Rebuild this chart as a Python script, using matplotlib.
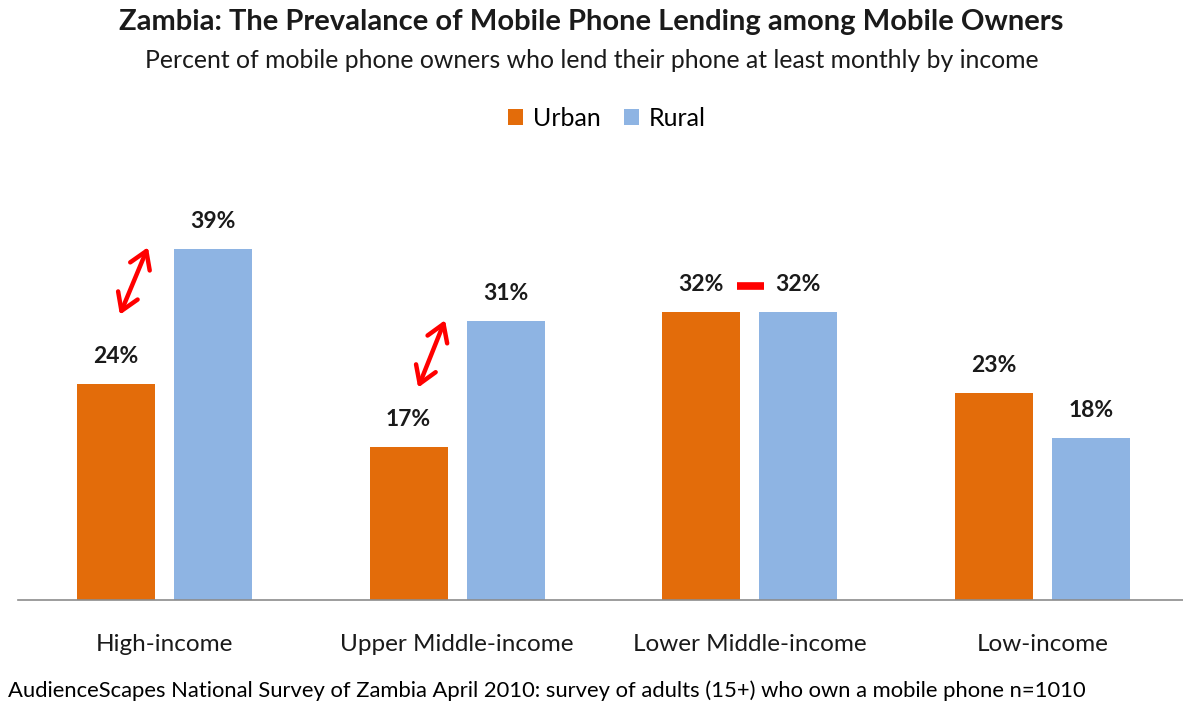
import matplotlib
matplotlib.use("Agg")
import matplotlib.pyplot as plt
import numpy as np

plt.rcParams['font.family'] = ['Lato', 'DejaVu Sans']

categories = ["High-income", "Upper Middle-income", "Lower Middle-income", "Low-income"]
urban = [24, 17, 32, 23]
rural = [39, 31, 32, 18]

title = "Zambia: The Prevalance of Mobile Phone Lending among Mobile Owners"
subtitle = "Percent of mobile phone owners who lend their phone at least monthly by income"
source = "AudienceScapes National Survey of Zambia April 2010: survey of adults (15+) who own a mobile phone n=1010"

URBAN_COLOR = "#E36C0A"
RURAL_COLOR = "#8EB4E3"

fig = plt.figure(figsize=(11.83, 7.03), dpi=100)
ax = fig.add_axes([18 / 1183, 103 / 703, 1165 / 1183, 450 / 703])

x = np.arange(len(categories))
w = 0.2665
off = (w + 0.065) / 2
b1 = ax.bar(x - off, urban, w, color=URBAN_COLOR, label="Urban")
b2 = ax.bar(x + off, rural, w, color=RURAL_COLOR, label="Rural")

for bars, vals in ((b1, urban), (b2, rural)):
    for r, v in zip(bars, vals):
        ax.annotate(f"{v}%", (r.get_x() + r.get_width() / 2, v),
                    xytext=(0, 19.5), textcoords="offset points",
                    ha="center", va="center", fontsize=16.5, fontweight="bold",
                    color="#1a1a1a")

ax.set_xlim(-0.5, 3.48)
ax.set_ylim(0, 50)
for s in ("top", "right", "left"):
    ax.spines[s].set_visible(False)
ax.spines["bottom"].set_color("#8c8c8c")
ax.spines["bottom"].set_linewidth(1.2)
ax.set_yticks([])
ax.set_xticks(x)
ax.set_xticklabels(categories, fontsize=17.5, color="#1a1a1a")
ax.tick_params(axis="x", length=0, pad=24.5)

# double-headed arrows highlighting the urban/rural gap
arrow_style = dict(arrowstyle="<->,head_length=0.6,head_width=0.38",
                   color="#FF0000", lw=3.2, mutation_scale=20,
                   shrinkA=0, shrinkB=0)
ax.annotate("", xy=(-0.056, 39.2), xytext=(-0.152, 31.7), arrowprops=arrow_style)
ax.annotate("", xy=(0.959, 31.1), xytext=(0.867, 23.6), arrowprops=arrow_style)
# equal sign between the lower middle-income pair
ax.plot([1.958, 2.047], [34.9, 34.9], color="#FF0000", lw=5.5, solid_capstyle="butt")

fig.text(0.5, 1 - 22 / 703, title, ha="center", va="center", fontsize=21,
         fontweight="bold", color="#1a1a1a")
fig.text(0.5, 1 - 60 / 703, subtitle, ha="center", va="center", fontsize=17.8,
         color="#1a1a1a")

ax.legend(loc="center", bbox_to_anchor=(607 / 1183, 1 - 118 / 703),
          bbox_transform=fig.transFigure, ncol=2, frameon=False,
          fontsize=18, handlelength=0.6, handleheight=0.6, handletextpad=0.4,
          columnspacing=0.9)

fig.text(8 / 1183, 1 - 691 / 703, source, ha="left", va="center", fontsize=15.8,
         color="#000000")

fig.savefig("out.png", dpi=100, facecolor="white")
